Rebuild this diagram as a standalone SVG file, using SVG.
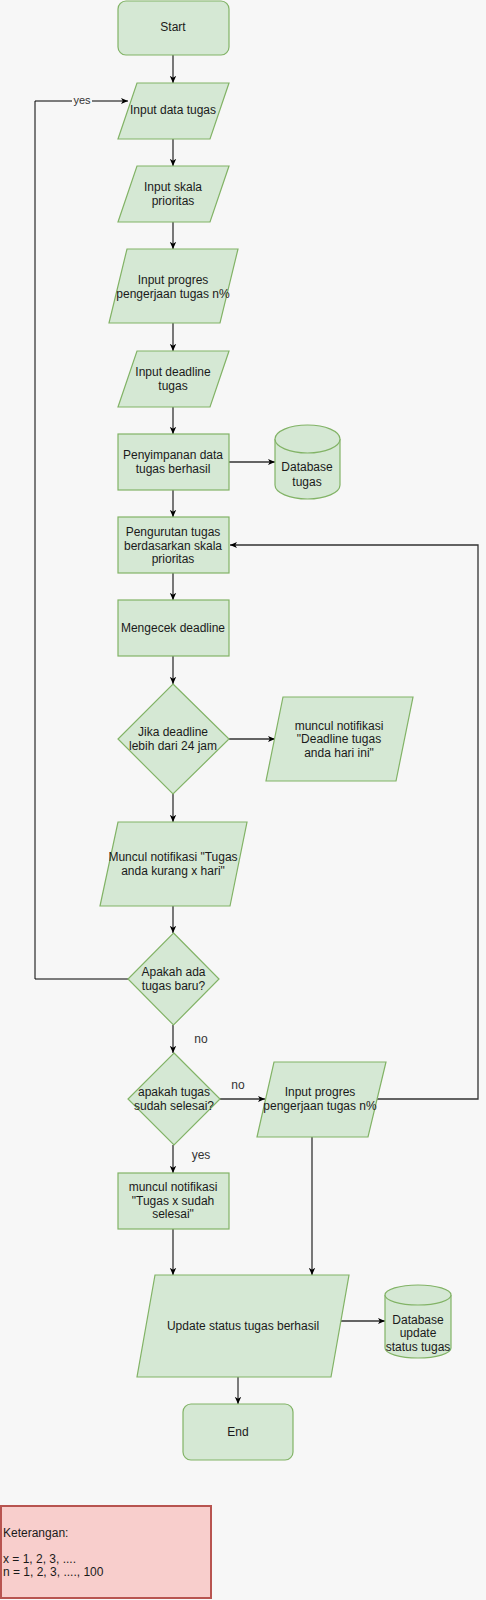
<svg xmlns="http://www.w3.org/2000/svg" width="486" height="1600" viewBox="0 0 486 1600">
<defs>
<style>
.n{fill:#d5e8d4;stroke:#82b366;stroke-width:1.2}
.t{font-family:"Liberation Sans",Arial,sans-serif;font-size:12px;fill:#1a1a1a;text-anchor:middle}
.l{font-family:"Liberation Sans",Arial,sans-serif;font-size:12px;fill:#333;text-anchor:middle}
.c{fill:none;stroke:#333;stroke-width:1.3}
.k{fill:none;stroke:#000;stroke-width:1}
</style>
<marker id="arr" viewBox="0 0 10 10" refX="9" refY="5" markerWidth="8" markerHeight="8" markerUnits="userSpaceOnUse" orient="auto">
<path d="M0,1 L9,5 L0,9 L2.5,5 z" fill="#000"/>
</marker>
</defs>
<rect x="0" y="0" width="486" height="1600" fill="#f7f7f7"/>

<g id="connectors">
<path class="c" d="M173,55 V83" marker-end="url(#arr)"/>
<path class="c" d="M173,139 V166" marker-end="url(#arr)"/>
<path class="c" d="M173,222 V249" marker-end="url(#arr)"/>
<path class="c" d="M173,323 V351" marker-end="url(#arr)"/>
<path class="c" d="M173,407 V434" marker-end="url(#arr)"/>
<path class="c" d="M229,462 H275" marker-end="url(#arr)"/>
<path class="c" d="M173,490 V517" marker-end="url(#arr)"/>
<path class="c" d="M173,573 V600" marker-end="url(#arr)"/>
<path class="c" d="M173,656 V684" marker-end="url(#arr)"/>
<path class="c" d="M229,739 H275" marker-end="url(#arr)"/>
<path class="c" d="M173,794 V822" marker-end="url(#arr)"/>
<path class="c" d="M173,906 V933" marker-end="url(#arr)"/>
<path class="k" d="M128,979 H35 V101 H128" marker-end="url(#arr)"/>
<rect x="72" y="94" width="20" height="13" fill="#f7f7f7"/>
<text class="l" x="82" y="104" style="font-size:11px">yes</text>
<path class="c" d="M173,1025 V1053" marker-end="url(#arr)"/>
<text class="l" x="201" y="1043">no</text>
<path class="c" d="M220,1099 H265" marker-end="url(#arr)"/>
<text class="l" x="238" y="1089">no</text>
<path class="c" d="M173,1145 V1173" marker-end="url(#arr)"/>
<text class="l" x="201" y="1159">yes</text>
<path class="c" d="M377,1099 H478 V545 H230" marker-end="url(#arr)"/>
<path class="c" d="M312,1137 V1275" marker-end="url(#arr)"/>
<path class="c" d="M173,1229 V1275" marker-end="url(#arr)"/>
<path class="c" d="M341,1321 H385" marker-end="url(#arr)"/>
<path class="k" d="M238,1377 V1404" marker-end="url(#arr)"/>
</g>

<g id="start">
<rect class="n" x="118" y="1" width="111" height="54" rx="8"/>
<text class="t" x="173" y="31">Start</text>
</g>
<g id="input-data">
<polygon class="n" points="137,83 229,83 210,139 118,139"/>
<text class="t" x="173" y="114">Input data tugas</text>
</g>
<g id="input-skala">
<polygon class="n" points="137,166 229,166 210,222 118,222"/>
<text class="t" x="173" y="191">Input skala</text>
<text class="t" x="173" y="205">prioritas</text>
</g>
<g id="input-progres">
<polygon class="n" points="127,249 238,249 220,323 109,323"/>
<text class="t" x="173" y="284">Input progres</text>
<text class="t" x="173" y="298">pengerjaan tugas n%</text>
</g>
<g id="input-deadline">
<polygon class="n" points="137,351 229,351 210,407 118,407"/>
<text class="t" x="173" y="376">Input deadline</text>
<text class="t" x="173" y="390">tugas</text>
</g>
<g id="penyimpanan">
<rect class="n" x="118" y="434" width="111" height="56"/>
<text class="t" x="173" y="459">Penyimpanan data</text>
<text class="t" x="173" y="473">tugas berhasil</text>
</g>
<g id="db-tugas">
<path class="n" d="M275,439 A32.5,14 0 0 1 340,439 V485 A32.5,14 0 0 1 275,485 Z"/>
<path class="n" d="M275,439 A32.5,14 0 0 0 340,439" fill="none"/>
<text class="t" x="307" y="471">Database</text>
<text class="t" x="307" y="486">tugas</text>
</g>
<g id="pengurutan">
<rect class="n" x="118" y="517" width="111" height="56"/>
<text class="t" x="173" y="536">Pengurutan tugas</text>
<text class="t" x="173" y="550">berdasarkan skala</text>
<text class="t" x="173" y="563">prioritas</text>
</g>
<g id="mengecek">
<rect class="n" x="118" y="600" width="111" height="56"/>
<text class="t" x="173" y="632">Mengecek deadline</text>
</g>
<g id="jika-deadline">
<polygon class="n" points="173,684 229,739 173,794 118,739"/>
<text class="t" x="173" y="736">Jika deadline</text>
<text class="t" x="173" y="750">lebih dari 24 jam</text>
</g>
<g id="notif-deadline">
<polygon class="n" points="283,697 413,697 396,781 266,781"/>
<text class="t" x="339" y="730">muncul notifikasi</text>
<text class="t" x="339" y="743">"Deadline tugas</text>
<text class="t" x="339" y="757">anda hari ini"</text>
</g>
<g id="notif-kurang">
<polygon class="n" points="118,822 247,822 230,906 100,906"/>
<text class="t" x="173" y="861">Muncul notifikasi "Tugas</text>
<text class="t" x="173" y="875">anda kurang x hari"</text>
</g>
<g id="tugas-baru">
<polygon class="n" points="173.5,933 219,979 173.5,1025 128,979"/>
<text class="t" x="173.5" y="976">Apakah ada</text>
<text class="t" x="173.5" y="990">tugas baru?</text>
</g>
<g id="sudah-selesai">
<polygon class="n" points="174,1053 220,1099 174,1145 128,1099"/>
<text class="t" x="174" y="1096">apakah tugas</text>
<text class="t" x="174" y="1110">sudah selesai?</text>
</g>
<g id="input-progres-2">
<polygon class="n" points="274,1062 386,1062 368,1137 257,1137"/>
<text class="t" x="320" y="1096">Input progres</text>
<text class="t" x="320" y="1110">pengerjaan tugas n%</text>
</g>
<g id="notif-selesai">
<rect class="n" x="118" y="1173" width="111" height="56"/>
<text class="t" x="173" y="1191">muncul notifikasi</text>
<text class="t" x="173" y="1205">"Tugas x sudah</text>
<text class="t" x="173" y="1218">selesai"</text>
</g>
<g id="update-status">
<polygon class="n" points="155,1275 349,1275 331,1377 137,1377"/>
<text class="t" x="243" y="1330">Update status tugas berhasil</text>
</g>
<g id="db-update">
<path class="n" d="M385,1295 A33,10 0 0 1 451,1295 V1348 A33,10 0 0 1 385,1348 Z"/>
<path class="n" d="M385,1295 A33,10 0 0 0 451,1295" fill="none"/>
<text class="t" x="418" y="1324">Database</text>
<text class="t" x="418" y="1337">update</text>
<text class="t" x="418" y="1351">status tugas</text>
</g>
<g id="end">
<rect class="n" x="183" y="1404" width="110" height="56" rx="8"/>
<text class="t" x="238" y="1436">End</text>
</g>
<g id="keterangan">
<rect x="1" y="1506" width="210" height="92" fill="#f8cecc" stroke="#b85450" stroke-width="2"/>
<text class="t" x="3" y="1537" style="text-anchor:start">Keterangan:</text>
<text class="t" x="3" y="1563" style="text-anchor:start">x = 1, 2, 3, ....</text>
<text class="t" x="3" y="1576" style="text-anchor:start">n = 1, 2, 3, ...., 100</text>
</g>
</svg>
